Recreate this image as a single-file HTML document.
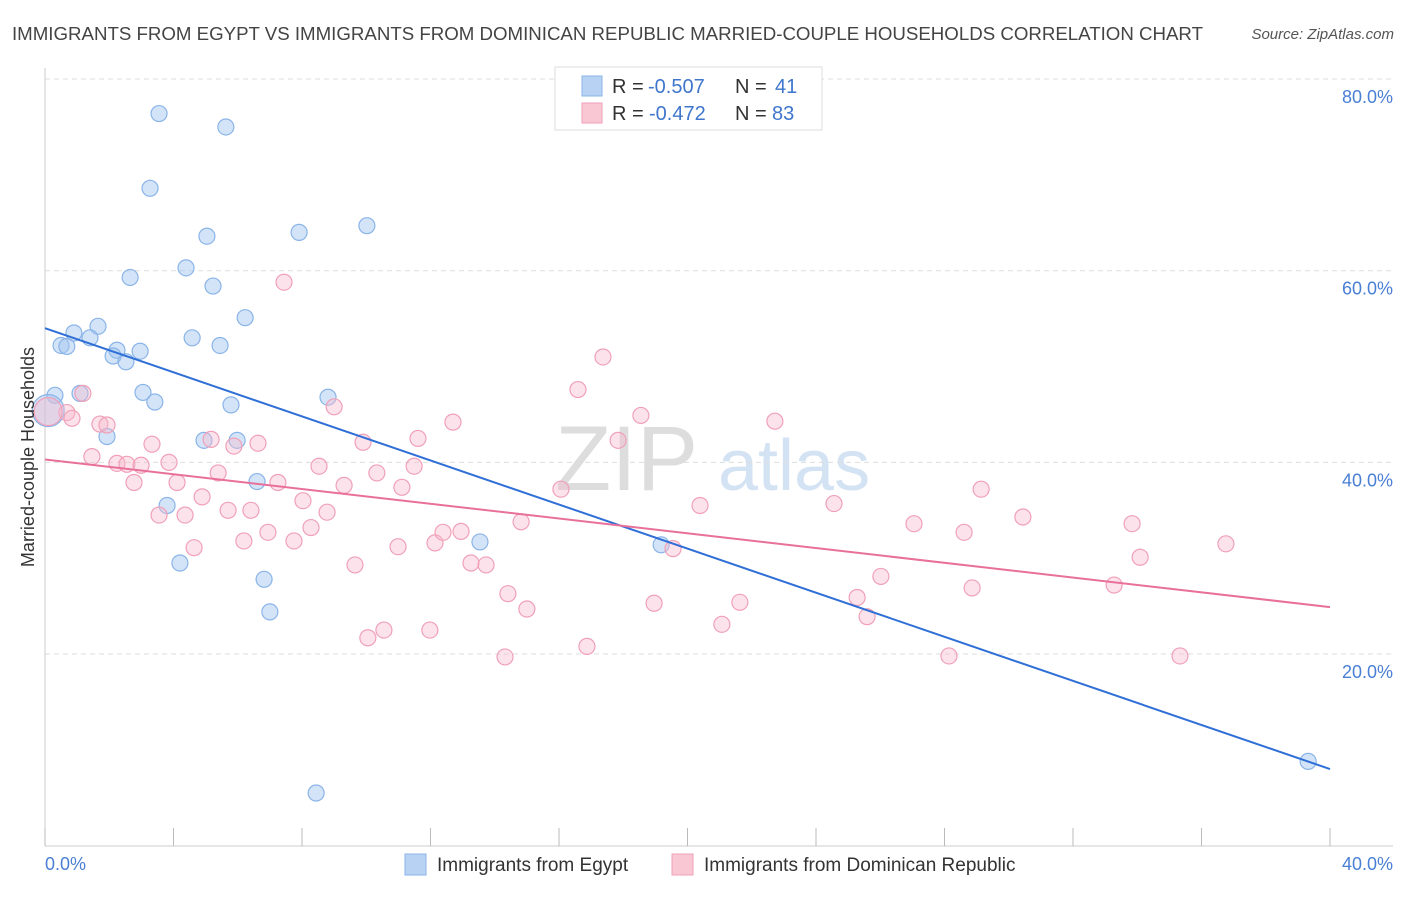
<!DOCTYPE html>
<html><head><meta charset="utf-8"><style>
body{margin:0;background:#fff;font-family:"Liberation Sans",sans-serif;}
svg text{font-family:"Liberation Sans",sans-serif;}
</style></head><body>
<svg id="chart" width="1406" height="892">
<text x="12" y="40" font-size="18.7" fill="#444" textLength="1191">IMMIGRANTS FROM EGYPT VS IMMIGRANTS FROM DOMINICAN REPUBLIC MARRIED-COUPLE HOUSEHOLDS CORRELATION CHART</text>
<text x="1394" y="39" font-size="15" fill="#555" font-style="italic" text-anchor="end">Source: ZipAtlas.com</text>
<g><text x="555" y="490" font-size="92" fill="#ddd" font-family="Liberation Serif">ZIP</text><text x="718" y="490" font-size="72" fill="#d4e3f4">atlas</text></g>
<g id="grid"></g><g id="pts"></g><g id="lines"></g>
<text transform="translate(34,457) rotate(-90)" font-size="18" fill="#333" text-anchor="middle">Married-couple Households</text>
<text x="45" y="870" font-size="18" fill="#4a7fd4">0.0%</text>
<text x="1393" y="870" font-size="18" fill="#4a7fd4" text-anchor="end">40.0%</text>
<g>
<rect x="555" y="67" width="267" height="63" fill="#fff" stroke="#ddd"/>
<rect x="582" y="76" width="20" height="20" fill="#b8d2f4" stroke="#8ab4e8"/>
<rect x="582" y="103" width="20" height="20" fill="#f9c6d4" stroke="#f0a0b8"/>
<text x="612" y="93" font-size="20" fill="#333">R =</text>
<text x="648" y="93" font-size="20" fill="#3f76cc">-0.507</text>
<text x="735" y="93" font-size="20" fill="#333">N =</text>
<text x="775" y="93" font-size="20" fill="#3f76cc">41</text>
<text x="612" y="120" font-size="20" fill="#333">R =</text>
<text x="649" y="120" font-size="20" fill="#3f76cc">-0.472</text>
<text x="735" y="120" font-size="20" fill="#333">N =</text>
<text x="772" y="120" font-size="20" fill="#3f76cc">83</text>
</g>
<g>
<rect x="405" y="854" width="21" height="21" fill="#b8d2f4" stroke="#8ab4e8"/>
<text x="437" y="871" font-size="19" fill="#333">Immigrants from Egypt</text>
<rect x="672" y="854" width="21" height="21" fill="#f9c6d4" stroke="#f0a0b8"/>
<text x="704" y="871" font-size="19" fill="#333">Immigrants from Dominican Republic</text>
</g>
</svg>
<script>
const yTicks=[20,40,60,80];
const yTickLabels=["20.0%","40.0%","60.0%","80.0%"];
const xTicks=[0,4,8,12,16,20,24,28,32,36,40];
const egyptX=[3.55,5.63,3.27,5.04,7.91,10.02,4.39,2.65,5.23,6.23,1.65,0.90,1.40,0.50,0.68,4.58,5.45,2.24,2.96,2.12,2.52,0.31,1.09,3.05,3.42,5.79,8.81,1.93,4.95,5.98,6.60,3.80,4.20,6.82,7.00,13.54,19.18,39.32,8.44,0.1];
const egyptY=[76.4,75.0,68.6,63.6,64.0,64.7,60.3,59.3,58.4,55.1,54.2,53.5,53.0,52.2,52.1,53.0,52.2,51.7,51.6,51.1,50.5,47.0,47.2,47.3,46.3,46.0,46.8,42.7,42.3,42.3,38.0,35.5,29.5,27.8,24.4,31.7,31.4,8.8,5.5,45.4];
const domX=[0.68,1.18,0.84,1.71,1.93,1.46,2.24,2.55,2.99,3.33,3.86,2.77,3.55,4.11,4.36,4.64,4.89,5.17,5.39,5.70,5.88,6.19,6.63,6.41,6.94,7.25,7.44,7.75,8.03,8.28,8.53,8.78,9.00,9.31,9.65,9.90,10.05,10.33,10.55,10.99,11.11,11.49,11.61,11.98,12.14,12.39,12.70,12.95,13.26,13.73,14.32,14.41,14.82,15.00,16.06,16.59,16.87,17.37,17.84,18.55,18.96,19.55,20.39,21.07,21.63,22.72,24.56,25.28,25.59,26.02,27.05,28.14,28.61,28.86,29.14,30.44,33.28,33.84,34.09,35.33,36.76,0.1];
const domY=[45.2,47.2,44.6,44.0,43.9,40.6,39.9,39.8,39.7,41.9,40.0,37.9,34.5,37.9,34.5,31.1,36.4,42.4,38.9,35.0,41.7,31.8,42.0,35.0,32.7,37.9,58.8,31.8,36.0,33.2,39.6,34.8,45.8,37.6,29.3,42.1,21.7,38.9,22.5,31.2,37.4,39.6,42.5,22.5,31.6,32.7,44.2,32.8,29.5,29.3,19.7,26.3,33.8,24.7,37.2,47.6,20.8,51.0,42.3,44.9,25.3,31.0,35.5,23.1,25.4,44.3,35.7,25.9,23.9,28.1,33.6,19.8,32.7,26.9,37.2,34.3,27.2,33.6,30.1,19.8,31.5,45.3];
const egyptTrend=[54.0,8.0];
const domTrend=[40.3,24.9];
const NS="http://www.w3.org/2000/svg";
const X=v=>45+v*32.125, Y=v=>845.7-v*9.583;
function mk(tag,attrs,parent){const e=document.createElementNS(NS,tag);for(const k in attrs)e.setAttribute(k,attrs[k]);parent.appendChild(e);return e;}
const grid=document.getElementById('grid'),pts=document.getElementById('pts'),lines=document.getElementById('lines');
yTicks.forEach((t,i)=>{
 const l=mk('line',{x1:45,x2:1393,y1:Y(t),y2:Y(t),stroke:'#ddd','stroke-dasharray':'5,4'},grid);
 
 
 const tx=mk('text',{x:1393,y:Y(t)+24,'font-size':18,fill:'#4a7fd4','text-anchor':'end'},grid);
 tx.textContent=yTickLabels[i];
 
 
});
const ax=mk('line',{x1:45,x2:45,y1:68,y2:846,stroke:'#ccc'},grid);


const bx=mk('line',{x1:45,x2:1393,y1:846,y2:846,stroke:'#ccc'},grid);


xTicks.forEach(t=>{
 const l=mk('line',{x1:X(t),x2:X(t),y1:828,y2:846,stroke:'#bbb'},grid);
 
 
});
egyptX.forEach((x,i)=>{
 const big=i===egyptX.length-1;
 const c=mk('circle',{cx:X(x),cy:Y(egyptY[i]),r:big?16:8,fill:'rgba(160,196,240,0.45)',stroke:'#8ab4e8','stroke-width':1.2},pts);
 
 
});
domX.forEach((x,i)=>{
 const big=i===domX.length-1;
 const c=mk('circle',{cx:X(x),cy:Y(domY[i]),r:big?14:8,fill:'rgba(248,185,205,0.4)',stroke:'#f0a0b8','stroke-width':1.2},pts);
 
 
});
const l1=mk('line',{x1:X(0),y1:Y(egyptTrend[0]),x2:X(40),y2:Y(egyptTrend[1]),stroke:'#2f6fd6','stroke-width':2},lines);


const l2=mk('line',{x1:X(0),y1:Y(domTrend[0]),x2:X(40),y2:Y(domTrend[1]),stroke:'#e8709a','stroke-width':2},lines);


</script>
</body></html>
